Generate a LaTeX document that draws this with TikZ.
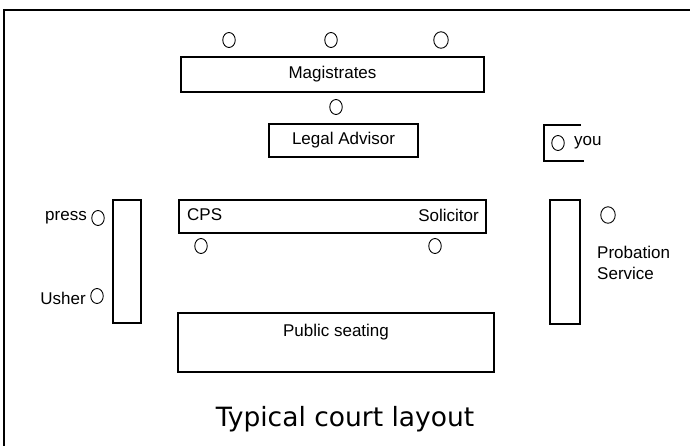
\documentclass[tikz,border=0pt]{standalone}
\usepackage{fontspec}
\setmainfont{Liberation Sans}
\newfontfamily\titlefont{DejaVu Sans}
\usetikzlibrary{shapes.geometric}
\tikzset{
  room/.style={draw=black, line width=1.3pt, inner sep=0pt, font=\fontsize{17}{19}\selectfont},
  seat/.style={draw=black, ellipse, line width=0.9pt, minimum width=12.5pt, minimum height=15pt, inner sep=0pt},
  lbl/.style={inner sep=0pt, font=\fontsize{17}{20}\selectfont},
}
\begin{document}
\begin{tikzpicture}[x=1pt,y=-1pt]
\useasboundingbox (0,0) rectangle (690,445);
\fill[white] (0,0) rectangle (690,445);
% outer frame
\draw[line width=2.4pt] (4,446) |- (691,10);
% magistrates
\node[seat] (m1) at (229,40) {};
\node[seat] (m2) at (331,40) {};
\node[seat, minimum width=14.5pt, minimum height=16.5pt] (m3) at (441,40) {};
\node[room, minimum width=303pt, minimum height=35pt] (mag) at (332.5,74.5) {Magistrates};
\node[seat] (la) at (336,107) {};
\node[room, minimum width=149pt, minimum height=33pt] (legal) at (343.5,140.5) {Legal Advisor};
% you
\coordinate (youtl) at (581,125);
\coordinate (youbr) at (584,161);
\draw[line width=1.1pt] (youtl) -| (544,161) -- (youbr);
\node[seat] (you) at (558,143) {};
\node[lbl, anchor=west] (youtxt) at (574,143) {you};
% left bar
\node[room, minimum width=28pt, minimum height=123pt] (lbar) at (127,261.5) {};
\node[seat] (press) at (98,218) {};
\node[lbl, anchor=east] (presstxt) at (87,218) {press};
\node[seat] (usher) at (97,296) {};
\node[lbl, anchor=east] (ushertxt) at (86,298) {Usher};
% CPS / solicitor
\node[room, minimum width=307pt, minimum height=33pt] (cps) at (332.5,216.5) {};
\node[lbl, anchor=west] (cpstxt) at (187,215) {CPS};
\node[lbl, anchor=east] (soltxt) at (479,215) {Solicitor};
\node[seat] (c1) at (201,246) {};
\node[seat] (c2) at (435,246) {};
% public seating
\node[room, minimum width=316pt, minimum height=59pt] (public) at (336,342.5) {};
\node[lbl] (pubtxt) at (336,332) {Public seating};
% right bar
\node[room, minimum width=30pt, minimum height=124pt] (rbar) at (565,262) {};
\node[seat, minimum width=14.5pt, minimum height=16.5pt] (prob) at (608,215) {};
\node[lbl, anchor=west] (probtxt) at (597,252) {Probation};
\node[lbl, anchor=west] (servtxt) at (597,273) {Service};
% title
\node[inner sep=0pt, font=\titlefont\fontsize{26.5}{30}\selectfont] (title) at (345,419) {Typical court layout};
\end{tikzpicture}
\end{document}
